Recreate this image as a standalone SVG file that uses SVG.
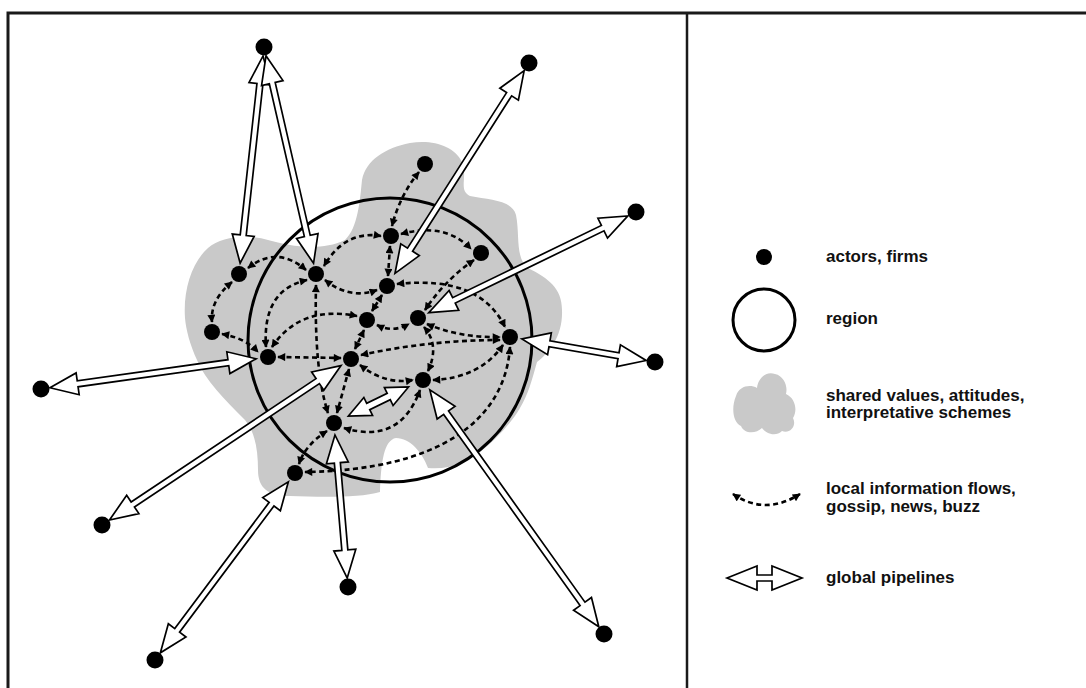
<svg xmlns="http://www.w3.org/2000/svg" width="1086" height="688" viewBox="0 0 1086 688">
<defs>
<marker id="ah" viewBox="0 0 10 10" refX="9" refY="5" markerWidth="9" markerHeight="8" markerUnits="userSpaceOnUse" orient="auto-start-reverse"><path d="M0,0 L10,5 L0,10 z" fill="#000"/></marker>
</defs>
<style>
.frame{stroke:#1a1a1a;stroke-width:2.5;fill:none}
.blob{fill:#c9c9c9;stroke:none}
.region{fill:none;stroke:#000;stroke-width:3}
.flow{fill:none;stroke:#000;stroke-width:2.6;stroke-dasharray:5 3.5;marker-start:url(#ah);marker-end:url(#ah)}
.pipe{fill:#fff;stroke:#000;stroke-width:1.7;stroke-linejoin:miter}
.node{fill:#000}
.lbl{font-family:"Liberation Sans",Arial,sans-serif;font-weight:bold;font-size:17px;fill:#111}
</style>
<rect width="1086" height="688" fill="#fff"/>
<g id="frame">
<path class="frame" d="M8,688 V13 H1086" style="stroke-width:3"/>
<path class="frame" d="M687,13 V688"/>
</g>
<g id="shared-values">
<path class="blob" d="M185,318 C183,290 192,262 208,248 C222,236 248,234 268,240 C290,246 320,252 345,240 C358,228 360,200 362,180 C366,160 385,148 410,143 C432,139 455,146 462,162 C468,178 458,190 470,196 C490,200 512,200 516,215 C520,235 515,258 528,268 C548,278 562,288 562,310 C563,335 550,352 537,362 C532,380 528,395 520,408 C510,425 495,440 480,452 C468,462 450,470 428,468 C422,452 410,438 396,438 C384,440 381,462 380,492 C360,498 320,497 290,496 C268,496 258,488 258,470 C258,450 255,432 245,420 C225,400 205,380 197,360 C190,345 186,330 185,318 Z"/>
</g>
<g id="region">
<circle class="region" cx="390" cy="340" r="142"/>
</g>
<g id="connectors">
<g id="local-flows">
<path class="flow" d="M419,172 Q400,195 392,226"/>
<path class="flow" d="M381,236 Q345,230 324,266"/>
<path class="flow" d="M401,234 Q445,222 471,249"/>
<path class="flow" d="M390,246 L388,276"/>
<path class="flow" d="M382,295 L372,311"/>
<path class="flow" d="M248,268 Q277,245 306,270"/>
<path class="flow" d="M232,282 Q210,300 212,322"/>
<path class="flow" d="M222,334 Q245,338 258,352"/>
<path class="flow" d="M325,280 Q350,300 377,290"/>
<path class="flow" d="M307,280 Q262,290 266,347"/>
<path class="flow" d="M316,285 Q314,370 328,413"/>
<path class="flow" d="M272,347 Q300,305 357,316"/>
<path class="flow" d="M278,357 L341,358"/>
<path class="flow" d="M397,284 Q480,275 505,327"/>
<path class="flow" d="M474,260 Q445,280 425,310"/>
<path class="flow" d="M427,324 Q460,338 500,337"/>
<path class="flow" d="M361,355 Q430,340 500,340"/>
<path class="flow" d="M424,327 Q440,345 428,371"/>
<path class="flow" d="M503,345 Q480,378 433,380"/>
<path class="flow" d="M360,365 Q385,385 413,380"/>
<path class="flow" d="M364,330 L355,349"/>
<path class="flow" d="M349,369 L337,413"/>
<path class="flow" d="M344,428 Q400,445 420,390"/>
<path class="flow" d="M510,347 C505,420 440,470 305,472"/>
<path class="flow" d="M327,431 Q305,445 299,464"/>
<path class="flow" d="M377,325 Q393,333 409,324"/>
</g>
<g id="global-pipelines">
<polygon class="pipe" transform="translate(264,47) rotate(96.3)" points="9,0 37,-11 37,-3 189.4,-3 189.4,-11 217.4,0 189.4,11 189.4,3 37,3 37,11"/>
<polygon class="pipe" transform="translate(264,47) rotate(77.1)" points="9,0 37,-11 37,-3 193.9,-3 193.9,-11 221.9,0 193.9,11 193.9,3 37,3 37,11"/>
<polygon class="pipe" transform="translate(529,63) rotate(122.5)" points="9,0 37,-11 37,-3 221.4,-3 221.4,-11 249.4,0 221.4,11 221.4,3 37,3 37,11"/>
<polygon class="pipe" transform="translate(636,212) rotate(154.1)" points="9,0 37,-11 37,-3 202.4,-3 202.4,-11 230.4,0 202.4,11 202.4,3 37,3 37,11"/>
<polygon class="pipe" transform="translate(655,362) rotate(189.8)" points="9,0 37,-11 37,-3 107.1,-3 107.1,-11 135.1,0 107.1,11 107.1,3 37,3 37,11"/>
<polygon class="pipe" transform="translate(41,389) rotate(-8)" points="9,0 37,-11 37,-3 189.2,-3 189.2,-11 217.2,0 189.2,11 189.2,3 37,3 37,11"/>
<polygon class="pipe" transform="translate(102,525) rotate(-33.7)" points="9,0 37,-11 37,-3 259.3,-3 259.3,-11 287.3,0 259.3,11 259.3,3 37,3 37,11"/>
<polygon class="pipe" transform="translate(348,587) rotate(-94.9)" points="9,0 37,-11 37,-3 124.6,-3 124.6,-11 152.6,0 124.6,11 124.6,3 37,3 37,11"/>
<polygon class="pipe" transform="translate(155,660) rotate(-53.2)" points="9,0 37,-11 37,-3 194.6,-3 194.6,-11 222.6,0 194.6,11 194.6,3 37,3 37,11"/>
<polygon class="pipe" transform="translate(604,634) rotate(-125.5)" points="9,0 37,-11 37,-3 271.9,-3 271.9,-11 299.9,0 271.9,11 271.9,3 37,3 37,11"/>
<polygon class="pipe" transform="translate(334,423) rotate(-25.8)" points="16,0 38,-10 38,-3.5 60.8,-3.5 60.8,-10 82.8,0 60.8,10 60.8,3.5 38,3.5 38,10"/>
</g>
</g>
<g id="nodes">
<g id="n1"><circle class="node" cx="425" cy="164" r="8"/></g>
<g id="n2"><circle class="node" cx="391" cy="236" r="8"/></g>
<g id="n3"><circle class="node" cx="481" cy="253" r="8"/></g>
<g id="n4"><circle class="node" cx="239" cy="274" r="8"/></g>
<g id="n5"><circle class="node" cx="316" cy="274" r="8"/></g>
<g id="n6"><circle class="node" cx="387" cy="286" r="8"/></g>
<g id="n7"><circle class="node" cx="212" cy="332" r="8"/></g>
<g id="n8"><circle class="node" cx="367" cy="320" r="8"/></g>
<g id="n9"><circle class="node" cx="418" cy="318" r="8"/></g>
<g id="n10"><circle class="node" cx="268" cy="357" r="8"/></g>
<g id="n11"><circle class="node" cx="351" cy="359" r="8"/></g>
<g id="n12"><circle class="node" cx="510" cy="337" r="8"/></g>
<g id="n13"><circle class="node" cx="423" cy="380" r="8"/></g>
<g id="n14"><circle class="node" cx="334" cy="423" r="8"/></g>
<g id="n15"><circle class="node" cx="295" cy="473" r="8"/></g>
<g id="ext-a"><circle class="node" cx="264" cy="47" r="8.5"/></g>
<g id="ext-b"><circle class="node" cx="529" cy="63" r="8.5"/></g>
<g id="ext-c"><circle class="node" cx="636" cy="212" r="8.5"/></g>
<g id="ext-d"><circle class="node" cx="655" cy="362" r="8.5"/></g>
<g id="ext-e"><circle class="node" cx="41" cy="389" r="8.5"/></g>
<g id="ext-f"><circle class="node" cx="102" cy="525" r="8.5"/></g>
<g id="ext-g"><circle class="node" cx="348" cy="587" r="8.5"/></g>
<g id="ext-h"><circle class="node" cx="155" cy="660" r="8.5"/></g>
<g id="ext-i"><circle class="node" cx="604" cy="634" r="8.5"/></g>
</g>
<g id="legend">
<g id="legend-actors">
<circle class="node" cx="764" cy="257" r="8"/>
<text class="lbl" x="826" y="262">actors, firms</text>
</g>
<g id="legend-region">
<circle class="region" cx="764" cy="320" r="31"/>
<text class="lbl" x="826" y="324">region</text>
</g>
<g id="legend-shared">
<path class="blob" d="M736,396 C739,386 750,384 757,388 C758,378 766,371 775,374 C784,376 788,386 786,394 C795,398 798,410 793,418 C797,426 790,434 782,431 C776,437 766,434 762,428 C756,434 744,434 741,426 C733,422 731,408 736,396 Z"/>
<text class="lbl" x="826" y="401">shared values, attitudes,</text>
<text class="lbl" x="826" y="418">interpretative schemes</text>
</g>
<g id="legend-local">
<path class="flow" d="M733,494 Q765,516 800,494"/>
<text class="lbl" x="826" y="494">local information flows,</text>
<text class="lbl" x="826" y="512">gossip, news, buzz</text>
</g>
<g id="legend-global">
<polygon class="pipe" transform="translate(727,578)" points="0,0 30,-12 30,-3 45,-3 45,-12 75,0 45,12 45,3 30,3 30,12"/>
<text class="lbl" x="826" y="583">global pipelines</text>
</g>
</g>
</svg>
